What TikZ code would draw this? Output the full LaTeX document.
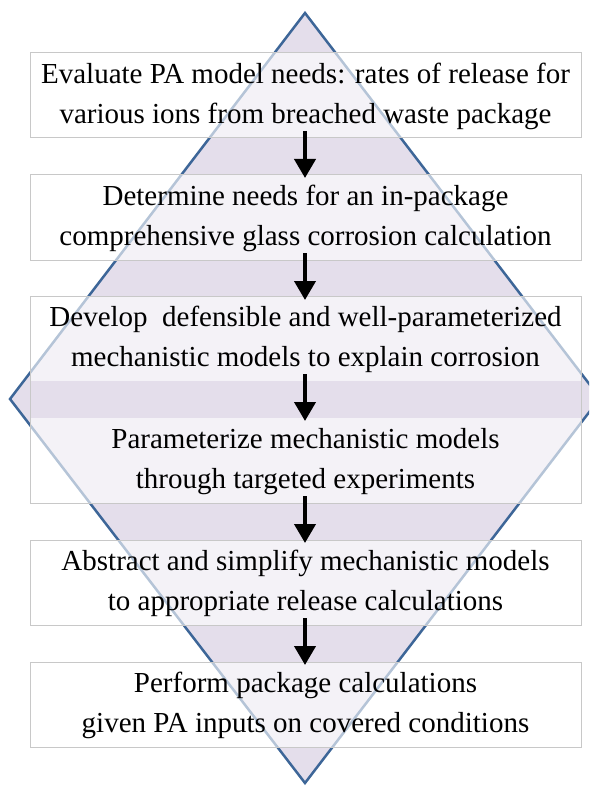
\documentclass[tikz,border=0pt]{standalone}
\usepackage{fontspec}
\setmainfont{Liberation Serif}
\usetikzlibrary{arrows.meta}
\definecolor{dpurple}{HTML}{E4DEEB}
\definecolor{dblue}{HTML}{3D6698}
\definecolor{bgray}{HTML}{C8C8C8}
\tikzset{
  diam/.style={fill=dpurple, draw=dblue, line width=2.5pt, line join=miter},
  boxfill/.style={fill=white, fill opacity=0.62, draw=none},
  boxline/.style={draw=bgray, line width=1pt},
  boxtext/.style={align=center, font=\fontsize{29}{40.5}\selectfont, text=black, inner sep=0pt},
  flowarr/.style={line width=4pt, -{Triangle[width=21pt,length=19pt]}, black}
}
\begin{document}
\begin{tikzpicture}[x=1pt,y=-1pt]
\useasboundingbox (0,0) rectangle (589,786);
\clip (0,0) rectangle (589,786);
% diamond
\coordinate (dt) at (305,13);
\coordinate (dr) at (600,398);
\coordinate (db) at (305,783);
\coordinate (dl) at (10,399);
\draw[diam] (dt) -- (dr) -- (db) -- (dl) -- cycle;
% box fills
\foreach \t/\b in {53/138,175/260,296/381,418/503,540/625,662/747}{
  \fill[boxfill] (30,\t) rectangle (581,\b);
}
% box outlines
\draw[boxline] (30,53) rectangle (581,138);
\draw[boxline] (30,175) rectangle (581,260);
\draw[boxline] (30,381) -- (30,296) -- (581,296) -- (581,381);
\draw[boxline] (30,381) -- (30,418);
\draw[boxline] (581,381) -- (581,418);
\draw[boxline] (30,418) -- (30,503) -- (581,503) -- (581,418);
\draw[boxline] (30,540) rectangle (581,625);
\draw[boxline] (30,662) rectangle (581,747);
% texts
\node[boxtext] (b1) at (305.5,96.5) {Evaluate PA model needs: rates of release for\\various ions from breached waste package};
\node[boxtext] (b2) at (305.5,218.5) {Determine needs for an in-package\\comprehensive glass corrosion calculation};
\node[boxtext] (b3) at (305.5,339.5) {Develop\ \ defensible and well-parameterized\\mechanistic models to explain corrosion};
\node[boxtext] (b4) at (305.5,461.5) {Parameterize mechanistic models\\through targeted experiments};
\node[boxtext] (b5) at (305.5,583.5) {Abstract and simplify mechanistic models\\to appropriate release calculations};
\node[boxtext] (b6) at (305.5,705.5) {Perform package calculations\\given PA inputs on covered conditions};
% arrow anchor coordinates
\coordinate (a1s) at (305,131); \coordinate (a1e) at (305,178);
\coordinate (a2s) at (305,253); \coordinate (a2e) at (305,300);
\coordinate (a3s) at (305,374); \coordinate (a3e) at (305,421);
\coordinate (a4s) at (305,496); \coordinate (a4e) at (305,543);
\coordinate (a5s) at (305,618); \coordinate (a5e) at (305,665);
\draw[flowarr] (a1s) -- (a1e);
\draw[flowarr] (a2s) -- (a2e);
\draw[flowarr] (a3s) -- (a3e);
\draw[flowarr] (a4s) -- (a4e);
\draw[flowarr] (a5s) -- (a5e);
\end{tikzpicture}
\end{document}
